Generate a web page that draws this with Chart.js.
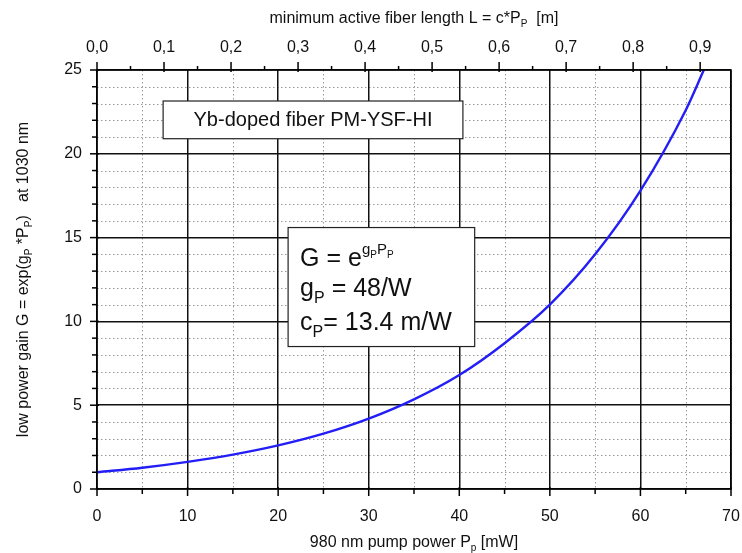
<!DOCTYPE html>
<html>
<head>
<meta charset="utf-8">
<script src="https://cdn.jsdelivr.net/npm/chart.js@4/dist/chart.umd.min.js"></script>
<style>
  html, body { margin: 0; padding: 0; background: #fff; }
  #wrap { width: 742px; height: 553px; }
</style>
</head>
<body>
<div id="wrap"><canvas id="myChart" width="742" height="553"></canvas></div>
<script>
// values
const pumpPower = [0, 5, 10, 15, 20, 25, 30, 35, 40, 45, 50, 55, 60, 65, 67];          // mW
const gain      = [1.0, 1.27, 1.62, 2.05, 2.6, 3.3, 4.2, 5.35, 6.8, 8.7, 11.0, 14.0, 17.8, 22.6, 25.0];

const xMajor = [0, 10, 20, 30, 40, 50, 60, 70];
const xMinor = [5, 15, 25, 35, 45, 55, 65];
const yMajor = [0, 5, 10, 15, 20, 25];
const yMinor = [1, 2, 3, 4, 6, 7, 8, 9, 11, 12, 13, 14, 16, 17, 18, 19, 21, 22, 23, 24];
const lenMajor = [0, 0.1, 0.2, 0.3, 0.4, 0.5, 0.6, 0.7, 0.8, 0.9];
const lenMinor = [0.05, 0.15, 0.25, 0.35, 0.45, 0.55, 0.65, 0.75, 0.85];

const fiberLabel = 'Yb-doped fiber PM-YSF-HI';
const gP = '48/W';
const cP = '13.4 m/W';

const FONT = '"Liberation Sans", Arial, sans-serif';

// draw text made of pieces: [text, kind] kind: n normal, sub, sup, supsub
function richText(ctx, parts, x, y, size, align) {
   const spec = (k) => {
      if (k == 'sub') return { s: 0.62, dy: 0.28 };
      if (k == 'sup') return { s: 0.6, dy: -0.45 };
      if (k == 'supsub') return { s: 0.4, dy: -0.3 };
      return { s: 1, dy: 0 };
   }
   let total = 0;
   const widths = [];
   for (let p of parts) {
      const sp = spec(p[1]);
      ctx.font = Math.round(size * sp.s) + 'px ' + FONT;
      const w = ctx.measureText(p[0]).width;
      widths.push(w);
      total += w;
   }
   let cx = align == 'center' ? x - total / 2 : x;
   ctx.textAlign = 'left';
   ctx.textBaseline = 'alphabetic';
   parts.forEach((p, i) => {
      const sp = spec(p[1]);
      ctx.font = Math.round(size * sp.s) + 'px ' + FONT;
      ctx.fillText(p[0], cx, y + sp.dy * size);
      cx += widths[i];
   });
}

const decoPlugin = {
   id: 'deco',
   beforeDraw(chart) {
      const ctx = chart.ctx;
      const a = chart.chartArea;
      const xs = chart.scales.x, ys = chart.scales.y;
      ctx.save();
      ctx.fillStyle = '#fff';
      ctx.fillRect(0, 0, chart.width, chart.height);
      // minor dotted grid
      ctx.strokeStyle = '#9a9a9a';
      ctx.lineWidth = 1;
      ctx.setLineDash([1.5, 2.5]);
      for (let v of xMinor) {
         const px = Math.round(xs.getPixelForValue(v)) + 0.5;
         ctx.beginPath(); ctx.moveTo(px, a.top); ctx.lineTo(px, a.bottom); ctx.stroke();
      }
      for (let v of yMinor) {
         const py = Math.round(ys.getPixelForValue(v)) + 0.5;
         ctx.beginPath(); ctx.moveTo(a.left, py); ctx.lineTo(a.right, py); ctx.stroke();
      }
      ctx.restore();
   },
   afterDraw(chart) {
      const ctx = chart.ctx;
      const a = chart.chartArea;
      const xs = chart.scales.x, ys = chart.scales.y, x2 = chart.scales.x2;
      ctx.save();
      ctx.strokeStyle = '#000';
      ctx.lineWidth = 1.5;
      ctx.setLineDash([]);
      ctx.strokeRect(a.left, a.top, a.right - a.left, a.bottom - a.top);

      const tick = (x1, y1, x2_, y2_) => { ctx.beginPath(); ctx.moveTo(x1, y1); ctx.lineTo(x2_, y2_); ctx.stroke(); };
      for (let v of xMajor) { const p = xs.getPixelForValue(v); tick(p, a.bottom - 2, p, a.bottom + 7); }
      for (let v of xMinor) { const p = xs.getPixelForValue(v); tick(p, a.bottom, p, a.bottom + 5); }
      for (let v of yMajor) { const p = ys.getPixelForValue(v); tick(a.left + 2, p, a.left - 7, p); }
      for (let v of yMinor) { const p = ys.getPixelForValue(v); tick(a.left, p, a.left - 5, p); }
      for (let v of lenMajor) { const p = x2.getPixelForValue(v); tick(p, a.top + 2, p, a.top - 8); }
      for (let v of lenMinor) { const p = x2.getPixelForValue(v); tick(p, a.top, p, a.top - 4); }

      // axis titles
      ctx.fillStyle = '#111';
      const midX = (a.left + a.right) / 2;
      richText(ctx, [['minimum active fiber length L = c*P', 'n'], ['P', 'sub'], ['  [m]', 'n']], midX, 23, 16, 'center');
      richText(ctx, [['980 nm pump power P', 'n'], ['p', 'sub'], [' [mW]', 'n']], midX, 547, 16, 'center');
      ctx.save();
      ctx.translate(28, (a.top + a.bottom) / 2);
      ctx.rotate(-Math.PI / 2);
      richText(ctx, [['low power gain G = exp(g', 'n'], ['P', 'sub'], [' *P', 'n'], ['P', 'sub'], [')   at 1030 nm', 'n']], 0, 0, 16, 'center');
      ctx.restore();

      // label box
      ctx.lineWidth = 1.2;
      ctx.strokeStyle = '#222';
      let bx1 = xs.getPixelForValue(7.3), bx2 = xs.getPixelForValue(40.4);
      let by1 = ys.getPixelForValue(23.15), by2 = ys.getPixelForValue(20.9);
      ctx.fillStyle = '#fff';
      ctx.fillRect(bx1, by1, bx2 - bx1, by2 - by1);
      ctx.strokeRect(bx1, by1, bx2 - bx1, by2 - by1);
      ctx.fillStyle = '#111';
      ctx.font = '20px ' + FONT;
      ctx.textAlign = 'center';
      ctx.textBaseline = 'middle';
      ctx.fillText(fiberLabel, (bx1 + bx2) / 2, (by1 + by2) / 2 + 1);

      // formula box
      bx1 = xs.getPixelForValue(21.1); bx2 = xs.getPixelForValue(41.7);
      by1 = ys.getPixelForValue(15.6); by2 = ys.getPixelForValue(8.5);
      ctx.fillStyle = '#fff';
      ctx.fillRect(bx1, by1, bx2 - bx1, by2 - by1);
      ctx.strokeRect(bx1, by1, bx2 - bx1, by2 - by1);
      ctx.fillStyle = '#111';
      const tx = bx1 + 12;
      richText(ctx, [['G = e', 'n'], ['g', 'sup'], ['P', 'supsub'], ['P', 'sup'], ['P', 'supsub']], tx, by1 + 38, 25, 'left');
      richText(ctx, [['g', 'n'], ['P', 'sub'], [' = ' + gP, 'n']], tx, by1 + 68, 25, 'left');
      richText(ctx, [['c', 'n'], ['P', 'sub'], ['= ' + cP, 'n']], tx, by1 + 102, 25, 'left');
      ctx.restore();
   }
};

const noPadX = (h) => (s) => { s.height = h; s.paddingLeft = 0; s.paddingRight = 0; };

const createChart = () => {
   const data = {
      datasets: [{
         label: 'gain',
         data: pumpPower.map((p, i) => ({ x: p, y: gain[i] })),
         borderColor: 'rgb(35, 30, 245)',
         borderWidth: 2.4,
         pointRadius: 0,
         fill: false,
         cubicInterpolationMode: 'monotone',
         xAxisID: 'x',
         yAxisID: 'y'
      }]
   };
   const tickFont = { family: FONT, size: 16 };
   const config = {
      type: 'line',
      data: data,
      plugins: [decoPlugin],
      options: {
         responsive: false,
         animation: false,
         devicePixelRatio: 1,
         layout: { padding: { right: 11, top: 0, left: 0, bottom: 0 } },
         plugins: { legend: { display: false }, tooltip: { enabled: false } },
         scales: {
            x: {
               type: 'linear', position: 'bottom', min: 0, max: 70,
               afterFit: noPadX(64),
               ticks: { stepSize: 10, font: tickFont, color: '#111', padding: 18, maxRotation: 0 },
               grid: { color: '#111', lineWidth: 1.5, drawTicks: false },
               border: { display: false }
            },
            x2: {
               type: 'linear', position: 'top', min: 0, max: 0.946,
               afterFit: noPadX(70),
               ticks: {
                  stepSize: 0.1, includeBounds: false, font: tickFont, color: '#111', padding: 13, maxRotation: 0,
                  callback: (v) => v.toFixed(1).replace('.', ',')
               },
               grid: { drawOnChartArea: false, drawTicks: false },
               border: { display: false }
            },
            y: {
               type: 'linear', position: 'left', min: 0, max: 25,
               afterFit: (s) => { s.width = 97; s.paddingTop = 0; s.paddingBottom = 0; },
               ticks: { stepSize: 5, font: tickFont, color: '#111', padding: 15 },
               grid: { color: '#111', lineWidth: 1.5, drawTicks: false },
               border: { display: false }
            }
         }
      }
   };
   const ctx = document.getElementById('myChart').getContext('2d');
   return new Chart(ctx, config);
}

createChart();
</script>
</body>
</html>
